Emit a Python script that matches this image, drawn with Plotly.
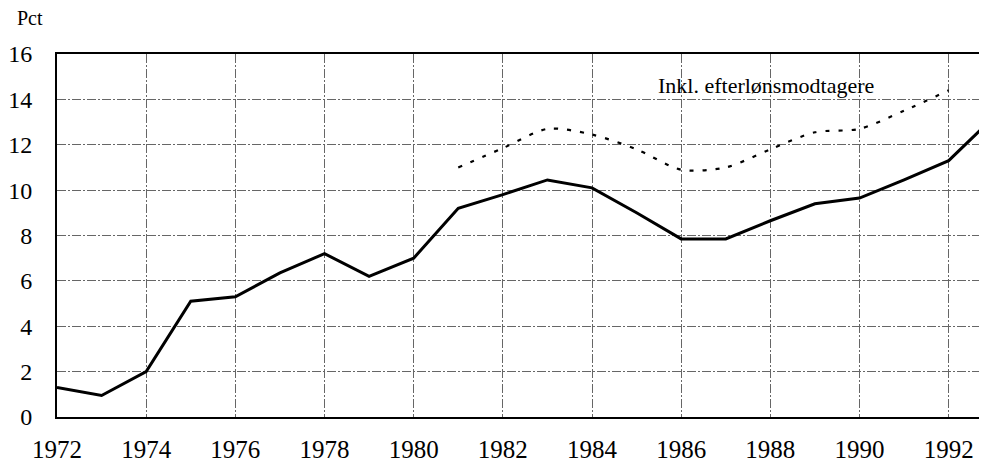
import plotly.graph_objects as go

years = list(range(1972, 1994))
ledighed = [1.3, 0.95, 2.0, 5.1, 5.3, 6.35, 7.2, 6.2, 7.0, 9.2, 9.8, 10.45, 10.1, 9.0, 7.85, 7.85, 8.65, 9.4, 9.65, 10.45, 11.3, 13.2]

years_efterl = list(range(1981, 1993))
inkl_efterl = [11.0, 11.85, 12.7, 12.45, 11.8, 10.9, 11.0, 11.8, 12.55, 12.7, 13.5, 14.4]

x_ticks = list(range(1972, 1993, 2))
y_ticks = list(range(0, 17, 2))

serif = "Liberation Serif"
grid_dash = "9px,2px,2px,2px"

fig = go.Figure()
fig.add_trace(go.Scatter(x=years_efterl, y=inkl_efterl, mode="lines",
                         line=dict(color="black", width=2.2, dash="4px,9px", shape="spline", smoothing=0.8),
                         showlegend=False))
fig.add_trace(go.Scatter(x=years, y=ledighed, mode="lines",
                         line=dict(color="black", width=3),
                         showlegend=False))

fig.add_annotation(x=1987.9, y=14.6, text="Inkl. efterlønsmodtagere", showarrow=False,
                   xanchor="center", yanchor="middle", font=dict(family=serif, size=22, color="black"))
# "Pct" sits above the y tick labels, outside the plot area
fig.add_annotation(x=-0.045, y=1.1, xref="paper", yref="paper", text="Pct", showarrow=False,
                   xanchor="left", yanchor="middle", font=dict(family=serif, size=20, color="black"))

fig.update_xaxes(range=[1972, 1992.86], tickvals=x_ticks, ticktext=[str(t) for t in x_ticks],
                 showgrid=True, gridcolor="#666", griddash=grid_dash, gridwidth=1,
                 showline=True, linecolor="black", linewidth=2, mirror=True,
                 ticks="", ticklabelstandoff=9, zeroline=False,
                 tickfont=dict(family=serif, size=25, color="black"))
fig.update_yaxes(range=[0, 16], tickvals=y_ticks,
                 showgrid=True, gridcolor="#666", griddash=grid_dash, gridwidth=1,
                 showline=True, linecolor="black", linewidth=2,
                 ticks="", ticklabelstandoff=18, zeroline=False,
                 tickfont=dict(family=serif, size=24, color="black"))

# the page has an 8px body margin, so the figure is a bit smaller than the window
fig.update_layout(width=979, height=459, margin=dict(l=46, r=0, t=46, b=50),
                  font=dict(family=serif, color="black"),
                  plot_bgcolor="white", paper_bgcolor="white")

fig.write_html("out.html")
